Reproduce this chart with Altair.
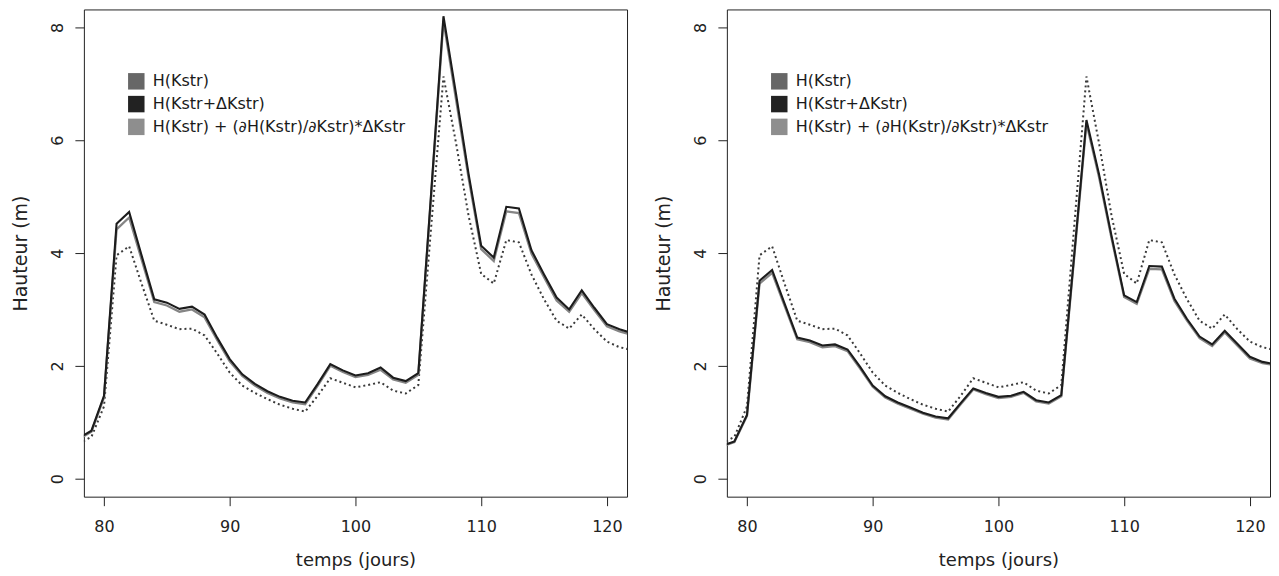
import altair as alt
import pandas as pd

FONT = "DejaVu Sans"

days = list(range(78, 123))

# H(Kstr): dotted reference curve (same in both panels)
h_kstr = [0.62, 0.74, 1.28, 3.96, 4.12, 3.45, 2.80, 2.73, 2.65, 2.66,
          2.54, 2.22, 1.88, 1.65, 1.52, 1.41, 1.31, 1.24, 1.19, 1.47,
          1.78, 1.70, 1.62, 1.66, 1.71, 1.56, 1.51, 1.66, 4.40, 7.13,
          5.95, 4.66, 3.63, 3.46, 4.23, 4.19, 3.62, 3.18, 2.80, 2.66,
          2.91, 2.65, 2.43, 2.33, 2.28]

# left panel
left_plus = [0.72, 0.85, 1.47, 4.52, 4.73, 3.95, 3.18, 3.12, 3.01, 3.05,
             2.91, 2.50, 2.12, 1.85, 1.68, 1.55, 1.45, 1.38, 1.35, 1.68,
             2.03, 1.92, 1.83, 1.87, 1.97, 1.79, 1.73, 1.87, 5.00, 8.20,
             6.82, 5.40, 4.13, 3.92, 4.82, 4.79, 4.05, 3.62, 3.21, 3.00,
             3.34, 3.03, 2.74, 2.65, 2.58]
left_lin = [0.70, 0.83, 1.44, 4.42, 4.63, 3.88, 3.13, 3.07, 2.96, 3.00,
            2.86, 2.46, 2.08, 1.82, 1.65, 1.52, 1.42, 1.35, 1.32, 1.65,
            2.00, 1.89, 1.80, 1.84, 1.93, 1.76, 1.70, 1.84, 4.95, 8.12,
            6.72, 5.33, 4.07, 3.86, 4.74, 4.71, 3.99, 3.57, 3.16, 2.96,
            3.29, 2.99, 2.70, 2.61, 2.55]

# right panel
right_plus = [0.58, 0.66, 1.13, 3.51, 3.70, 3.10, 2.50, 2.45, 2.36, 2.38,
              2.29, 1.98, 1.65, 1.46, 1.35, 1.26, 1.17, 1.10, 1.07, 1.34,
              1.60, 1.52, 1.45, 1.47, 1.54, 1.39, 1.35, 1.48, 3.90, 6.36,
              5.40, 4.30, 3.25, 3.13, 3.77, 3.76, 3.19, 2.83, 2.52, 2.38,
              2.62, 2.39, 2.16, 2.07, 2.03]
right_lin = [0.57, 0.65, 1.11, 3.46, 3.65, 3.06, 2.47, 2.42, 2.33, 2.35,
             2.26, 1.95, 1.63, 1.44, 1.33, 1.24, 1.15, 1.08, 1.05, 1.32,
             1.58, 1.50, 1.43, 1.45, 1.52, 1.37, 1.33, 1.46, 3.86, 6.30,
             5.35, 4.26, 3.22, 3.10, 3.72, 3.71, 3.15, 2.80, 2.49, 2.35,
             2.59, 2.36, 2.13, 2.05, 2.01]

series_names = ["H(Kstr)", "H(Kstr+ΔKstr)", "H(Kstr) + (∂H(Kstr)/∂Kstr)*ΔKstr"]
legend_colors = ["#676767", "#222222", "#8e8e8e"]
line_colors = ["#3a3a3a", "#1c1c1c", "#858585"]

x_ticks = [80, 90, 100, 110, 120]
y_ticks = [0, 2, 4, 6, 8]
x_domain = [78.4, 121.6]
y_domain = [-0.32, 8.32]

PW, PH = 544, 488


def panel(plus_vals, lin_vals):
    n = len(days)
    df = pd.DataFrame({
        "jour": days * 3,
        "hauteur": h_kstr + plus_vals + lin_vals,
        "serie": [series_names[0]] * n + [series_names[1]] * n + [series_names[2]] * n,
    })
    xenc = alt.X("jour:Q",
                 scale=alt.Scale(domain=x_domain, nice=False, zero=False),
                 axis=alt.Axis(values=x_ticks, grid=False, domain=False,
                               tickSize=9, tickColor="#222", tickWidth=1,
                               labelFont=FONT, labelFontSize=16, labelColor="#222",
                               labelPadding=13, labelFlush=False, labelOverlap=False,
                               title="temps (jours)", titleFont=FONT, titleFontSize=18,
                               titleFontWeight="normal", titleColor="#222",
                               titleY=69, titleBaseline="alphabetic"))
    yenc = alt.Y("hauteur:Q",
                 scale=alt.Scale(domain=y_domain, nice=False, zero=False),
                 axis=alt.Axis(values=y_ticks, grid=False, domain=False,
                               tickSize=9, tickColor="#222", tickWidth=1,
                               labelFont=FONT, labelFontSize=16, labelColor="#222",
                               labelAngle=270, labelAlign="center", labelBaseline="alphabetic",
                               labelPadding=12, labelFlush=False, labelOverlap=False,
                               title="Hauteur (m)", titleFont=FONT, titleFontSize=19,
                               titleFontWeight="normal", titleColor="#222",
                               titleAngle=270, titleX=-57.5, titleBaseline="alphabetic"))
    base = alt.Chart(df).encode(x=xenc, y=yenc)
    dotted = base.transform_filter(alt.datum.serie == series_names[0]).mark_line(
        clip=True, color=line_colors[0], strokeWidth=2, strokeDash=[2, 3])
    lin = base.transform_filter(alt.datum.serie == series_names[2]).mark_line(
        clip=True, color=line_colors[2], strokeWidth=2.3)
    plus = base.transform_filter(alt.datum.serie == series_names[1]).mark_line(
        clip=True, color=line_colors[1], strokeWidth=2.1)
    leg = base.transform_filter("false").mark_square(opacity=1).encode(
        fill=alt.Fill("serie:N",
                      scale=alt.Scale(domain=series_names, range=legend_colors),
                      legend=alt.Legend(title=None, orient="none", legendX=44, legendY=63.5,
                                        symbolType="square", symbolSize=272,
                                        symbolStrokeWidth=0, symbolOpacity=1,
                                        labelFont=FONT, labelFontSize=16,
                                        labelColor="#1a1a1a", labelOffset=8,
                                        rowPadding=5.8, padding=0, labelLimit=0)))
    return alt.layer(dotted, lin, plus, leg).properties(width=PW, height=PH)


left = panel(left_plus, left_lin)
right = panel(right_plus, right_lin)

chart = (
    alt.hconcat(left, right, spacing=26)
    .resolve_scale(fill="independent", x="independent", y="independent")
    .properties(padding={"left": 3, "top": 0, "right": 0, "bottom": 0},
                background="white")
    .configure_view(stroke="#222", strokeWidth=1)
)

chart.save("out.html", embed_options={"renderer": "svg", "actions": False})
